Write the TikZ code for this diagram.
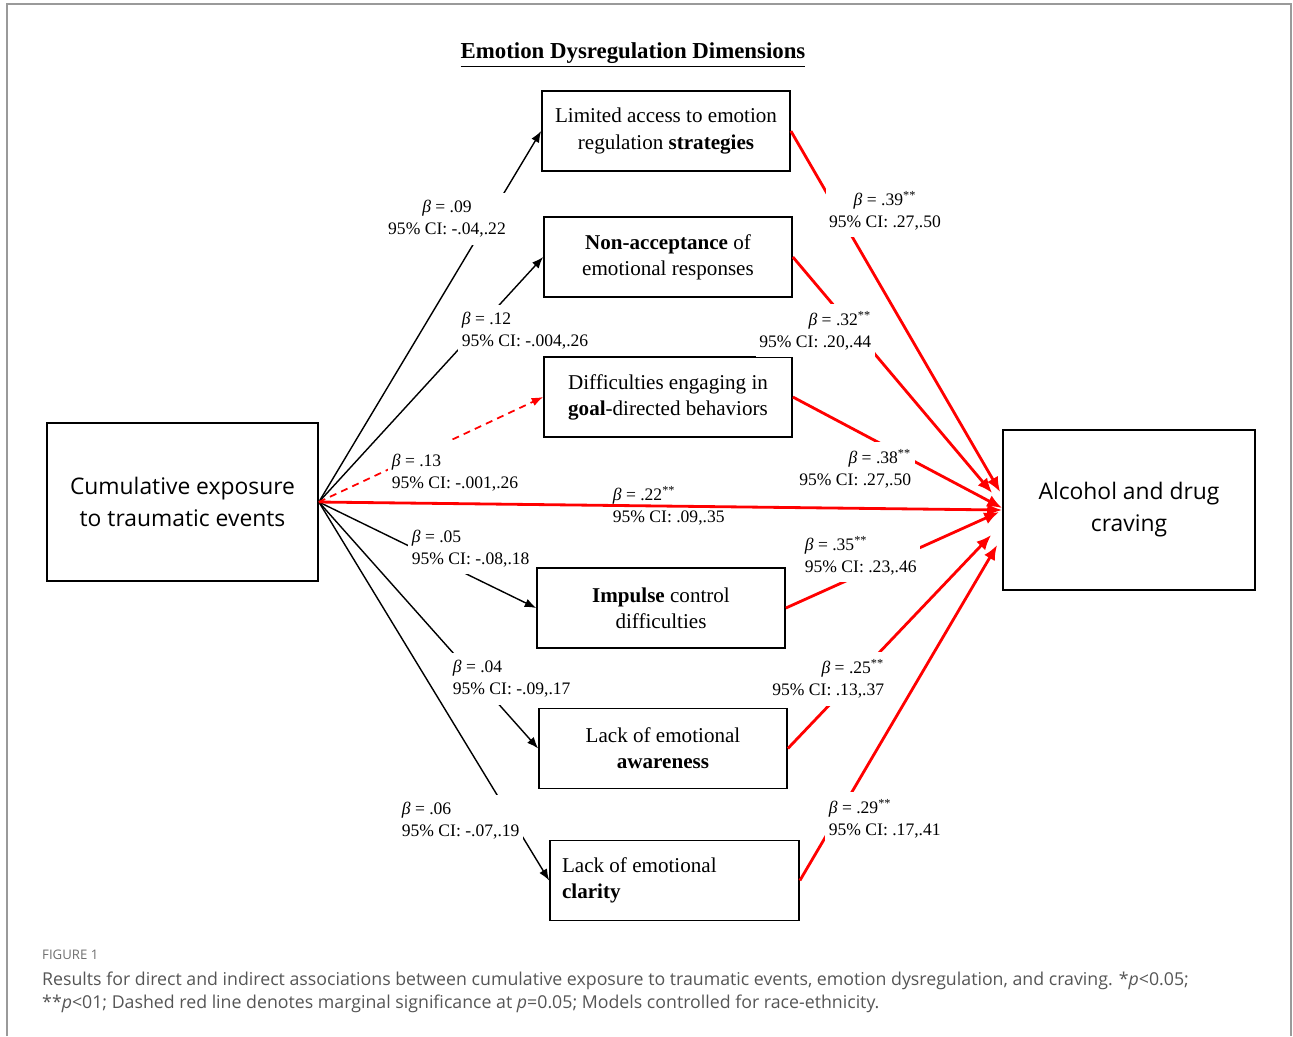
\documentclass[tikz,border=0pt]{standalone}
\usepackage{fontspec}
\setmainfont{Liberation Serif}
\newfontfamily\opensans{Open Sans}
\usepackage{tikz}
\usetikzlibrary{positioning,calc,arrows.meta}

\definecolor{framegray}{HTML}{9A9A9A}
\definecolor{capgray}{HTML}{555555}
\newcommand{\coef}[2]{\textit{β} = #1\\95\% CI: #2}

\begin{document}
\begin{tikzpicture}[x=0.02cm, y=-0.02cm,
  dimbox/.style={draw, line width=1pt, minimum width=4.96cm, minimum height=1.6cm,
    align=center, font=\fontsize{12}{14.8}\selectfont},
  endbox/.style={draw, line width=1pt, align=center, font=\opensans\fontsize{13}{18.2}\selectfont},
  coef/.style={fill=white, inner xsep=2pt, inner ysep=4pt, font=\fontsize{10}{12.5}\selectfont},
  blk/.style={line width=0.8pt, -{Latex[length=6.5pt,width=5pt]}},
  redarr/.style={red, line width=1.6pt, -{Latex[length=8.5pt,width=7pt]}}]
  \useasboundingbox (0,0) rectangle (1293,1036);

  % Frame
  \draw[framegray, line width=1.1pt] (7,1036) -- (7,4) -- (1291,4) -- (1291,1036);

  % Outer boxes
  \node[endbox, minimum width=5.42cm, minimum height=3.16cm] (cum) at (182.5,502) {Cumulative exposure\\to traumatic events};
  \node[endbox, minimum width=5.04cm, minimum height=3.2cm] (crv) at (1129,510) {Alcohol and drug\\craving};

  % Emotion dysregulation dimensions
  \node[font=\bfseries\fontsize{13}{15}\selectfont] (title) at (633,55) {\underline{Emotion Dysregulation Dimensions}};
  \node[dimbox] (lim) at (666,131) {Limited access to emotion\\regulation \textbf{strategies}};
  \node[dimbox] (nonacc) at (668,257) {\textbf{Non-acceptance} of\\emotional responses};
  \node[dimbox] (goal) at (668,397) {Difficulties engaging in\\\textbf{goal}-directed behaviors};
  \node[dimbox] (imp) at (661,608) {\textbf{Impulse} control\\difficulties};
  \node[dimbox] (aware) at (663,748.5) {Lack of emotional\\\textbf{awareness}};
  \node[dimbox, minimum width=4.98cm, text width=4.5cm, align=flush left] (clar) at (674.5,880.5) {Lack of emotional\\\textbf{clarity}};

  % Exposure to dimensions
  \draw[blk] (cum.east) -- (lim.west);
  \draw[blk] (cum.east) -- (nonacc.west);
  \draw[red, line width=1pt, dash pattern=on 4pt off 3pt, -{Latex[length=6.5pt,width=5pt]}] (cum.east) -- (goal.west);
  \draw[blk] (cum.east) -- (imp.west);
  \draw[blk] (cum.east) -- (aware.west);
  \draw[blk] (cum.east) -- (clar.west);

  % Dimensions to craving
  \draw[redarr] (lim.east) -- ($(crv.west)+(-2,-18)$);
  \draw[redarr] (nonacc.east) -- ($(crv.west)+(-10,-17)$);
  \draw[redarr] (goal.east) -- ($(crv.west)+(0,-2)$);
  \draw[redarr] (imp.east) -- ($(crv.west)+(-3,2)$);
  \draw[redarr] (aware.east) -- ($(crv.west)+(-11,25)$);
  \draw[redarr] (clar.east) -- ($(crv.west)+(-5,35)$);

  % Coefficients, left side
  \node[coef, align=center] (a1) at (447,219) {\coef{.09}{-.04,.22}};
  \node[coef, align=left, anchor=west] (a2) at (458,330.5) {\coef{.12}{-.004,.26}};
  \node[coef, inner ysep=8pt, align=left, anchor=west] (a3) at (388,473) {\coef{.13}{-.001,.26}};
  \node[coef, align=left, anchor=west] (a4) at (408,548.5) {\coef{.05}{-.08,.18}};
  \node[coef, align=left, anchor=west] (a5) at (449,679) {\coef{.04}{-.09,.17}};
  \node[coef, align=left, anchor=west] (a6) at (398,821) {\coef{.06}{-.07,.19}};

  % Coefficients, right side
  \node[coef, align=center] (b1) at (885,210.5) {\coef{.39\textsuperscript{**}}{.27,.50}};
  \node[coef, align=right, anchor=east] (b2) at (875,330.5) {\coef{.32\textsuperscript{**}}{.20,.44}};
  \node[coef, align=right, anchor=east] (b3) at (915,469) {\coef{.38\textsuperscript{**}}{.27,.50}};
  \node[coef, align=left, anchor=west] (b4) at (801,555.5) {\coef{.35\textsuperscript{**}}{.23,.46}};
  \node[coef, align=right, anchor=east] (b5) at (888,679) {\coef{.25\textsuperscript{**}}{.13,.37}};
  \node[coef, align=left, anchor=west] (b6) at (825,818.5) {\coef{.29\textsuperscript{**}}{.17,.41}};

  % Direct path
  \draw[redarr] (cum.east) -- (crv.west);
  \node[coef, fill=none, align=left, anchor=west] (c0) at (609,506) {\coef{.22\textsuperscript{**}}{.09,.35}};

  % Caption
  \node[anchor=west, text=capgray!85, font=\opensans\fontsize{7.5}{9}\selectfont] (fig) at (36,955) {FIGURE 1};
  \node[anchor=north west, align=left, text=capgray, font=\opensans\fontsize{10.1}{12.7}\selectfont] (cap) at (36,966)
    {Results for direct and indirect associations between cumulative exposure to traumatic events, emotion dysregulation, and craving. *\textit{p}<0.05;\\
     **\textit{p}<01; Dashed red line denotes marginal significance at \textit{p}=0.05; Models controlled for race-ethnicity.};
\end{tikzpicture}
\end{document}
